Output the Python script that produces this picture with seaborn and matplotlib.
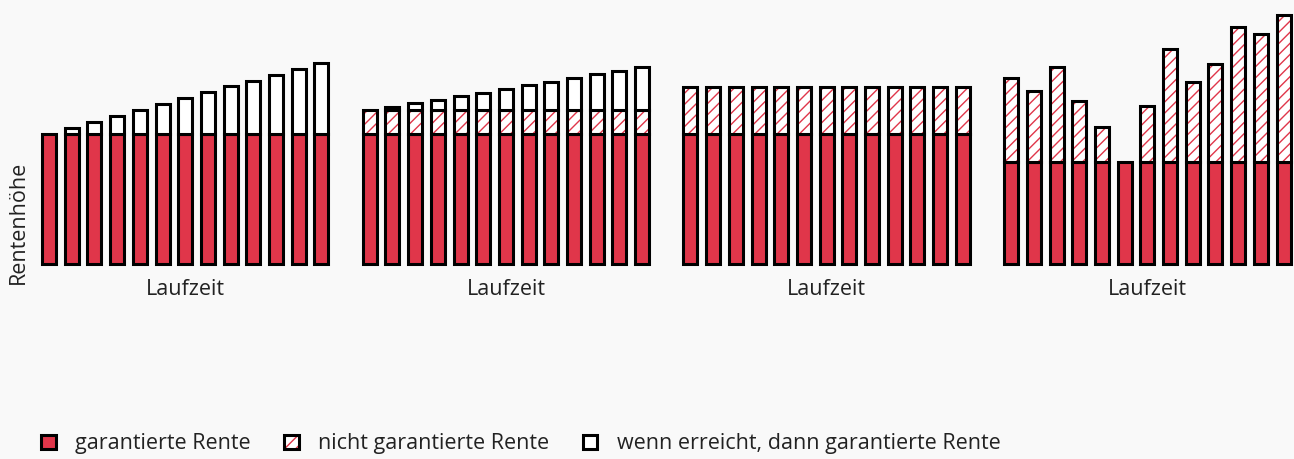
import matplotlib
matplotlib.use("Agg")
import matplotlib.pyplot as plt
import seaborn as sns
import pandas as pd
import numpy as np
from matplotlib.patches import Patch
from matplotlib.legend_handler import HandlerTuple

# ---------------- data (relative pension amounts) ----------------
years = [str(i) for i in range(1, 14)]

p1_garantiert = [100] * 13
p1_nicht = [0] * 13
p1_wenn = [0, 4.3, 8.8, 13.4, 18.2, 23.2, 27.5, 31.8, 36.4, 40.9, 45.5, 50.0, 54.5]

p2_garantiert = [100] * 13
p2_nicht = [18.2] * 13
p2_wenn = [0, 2.5, 5.3, 7.6, 10.8, 13.3, 15.9, 19.2, 21.7, 24.7, 27.7, 30.3, 33.3]

p3_garantiert = [100] * 13
p3_nicht = [36] * 13
p3_wenn = [0] * 13

p4_garantiert = [78] * 13
p4_nicht = [65.2, 55.0, 73.5, 47.2, 27.0, 0, 43.4, 87.1, 61.8, 75.8, 104.2, 98.5, 113.3]
p4_wenn = [0] * 13

panels = [
    (p1_garantiert, p1_nicht, p1_wenn),
    (p2_garantiert, p2_nicht, p2_wenn),
    (p3_garantiert, p3_nicht, p3_wenn),
    (p4_garantiert, p4_nicht, p4_wenn),
]

x_label = "Laufzeit"
y_label = "Rentenhöhe"
legend_labels = ["garantierte Rente", "nicht garantierte Rente",
                 "wenn erreicht, dann garantierte Rente"]

# ---------------- style ----------------
RED = "#e0364a"
BG = "#f9f9f9"
LW = 2.2
BAR_W = 0.62
FS = 15.5

sns.set_theme(style="white")
plt.rcParams["font.family"] = ["Open Sans", "DejaVu Sans"]
plt.rcParams["hatch.linewidth"] = 1.0

W, H = 1294, 459
fig = plt.figure(figsize=(W / 100, H / 100), dpi=100, facecolor=BG)

px_unit = 1.3
ymax = 200
base_px = 263.7
ax_h_px = ymax * px_unit
ax_w_px = 13 * 22.7


def draw_layer(ax, values, bottom, fill=True, **style):
    df = pd.DataFrame({"t": years, "v": values})
    before = len(ax.patches)
    sns.barplot(data=df, x="t", y="v", order=years, ax=ax, width=BAR_W,
                bottom=bottom, errorbar=None, saturation=1, **style)
    new = ax.patches[before:]
    for p, v in zip(new, values):
        p.set_clip_on(False)
        if not fill:
            p.set_fill(False)
        if v <= 0:
            p.set_visible(False)
    return new


for i, (g, n, w) in enumerate(panels):
    left_px = 37.7 + 320.7 * i
    ax = fig.add_axes([left_px / W, 1 - base_px / H, ax_w_px / W, ax_h_px / H])
    ax.set_facecolor("none")
    g = np.array(g, float)
    n = np.array(n, float)
    w = np.array(w, float)
    # guaranteed pension
    draw_layer(ax, g, 0, color=RED, edgecolor="black", linewidth=LW)
    # not guaranteed pension: hatch first, then black frame
    draw_layer(ax, n, g, color="white", edgecolor=RED, linewidth=0, hatch="///")
    draw_layer(ax, n, g, fill=False, color="white", edgecolor="black", linewidth=LW)
    # reached -> guaranteed
    draw_layer(ax, w, g + n, color="white", edgecolor="black", linewidth=LW)
    ax.set_xlim(-0.5, 12.5)
    ax.set_ylim(0, ymax)
    ax.set_xticks([])
    ax.set_yticks([])
    ax.set_ylabel("")
    ax.set_xlabel(x_label, fontsize=FS, labelpad=11, color="#222222")
    sns.despine(ax=ax, left=True, bottom=True)

fig.text(18 / W, 1 - 222 / H, y_label, rotation=90, ha="center", va="center",
         fontsize=FS, color="#222222")

h1 = Patch(facecolor=RED, edgecolor="black", linewidth=LW)
h2 = (Patch(facecolor="white", edgecolor=RED, linewidth=0, hatch="///"),
      Patch(fill=False, edgecolor="black", linewidth=LW))
h3 = Patch(facecolor="white", edgecolor="black", linewidth=LW)
leg = fig.legend([h1, h2, h3], legend_labels, ncol=3, frameon=False,
                 loc="center left", bbox_to_anchor=(41 / W, 1 - 444 / H),
                 fontsize=FS, handlelength=0.68, handleheight=0.68,
                 handletextpad=0.9, columnspacing=1.55, borderpad=0,
                 borderaxespad=0,
                 handler_map={tuple: HandlerTuple(ndivide=1, pad=0)})
for t in leg.get_texts():
    t.set_color("#222222")

fig.savefig("out.png", dpi=100, facecolor=BG)
